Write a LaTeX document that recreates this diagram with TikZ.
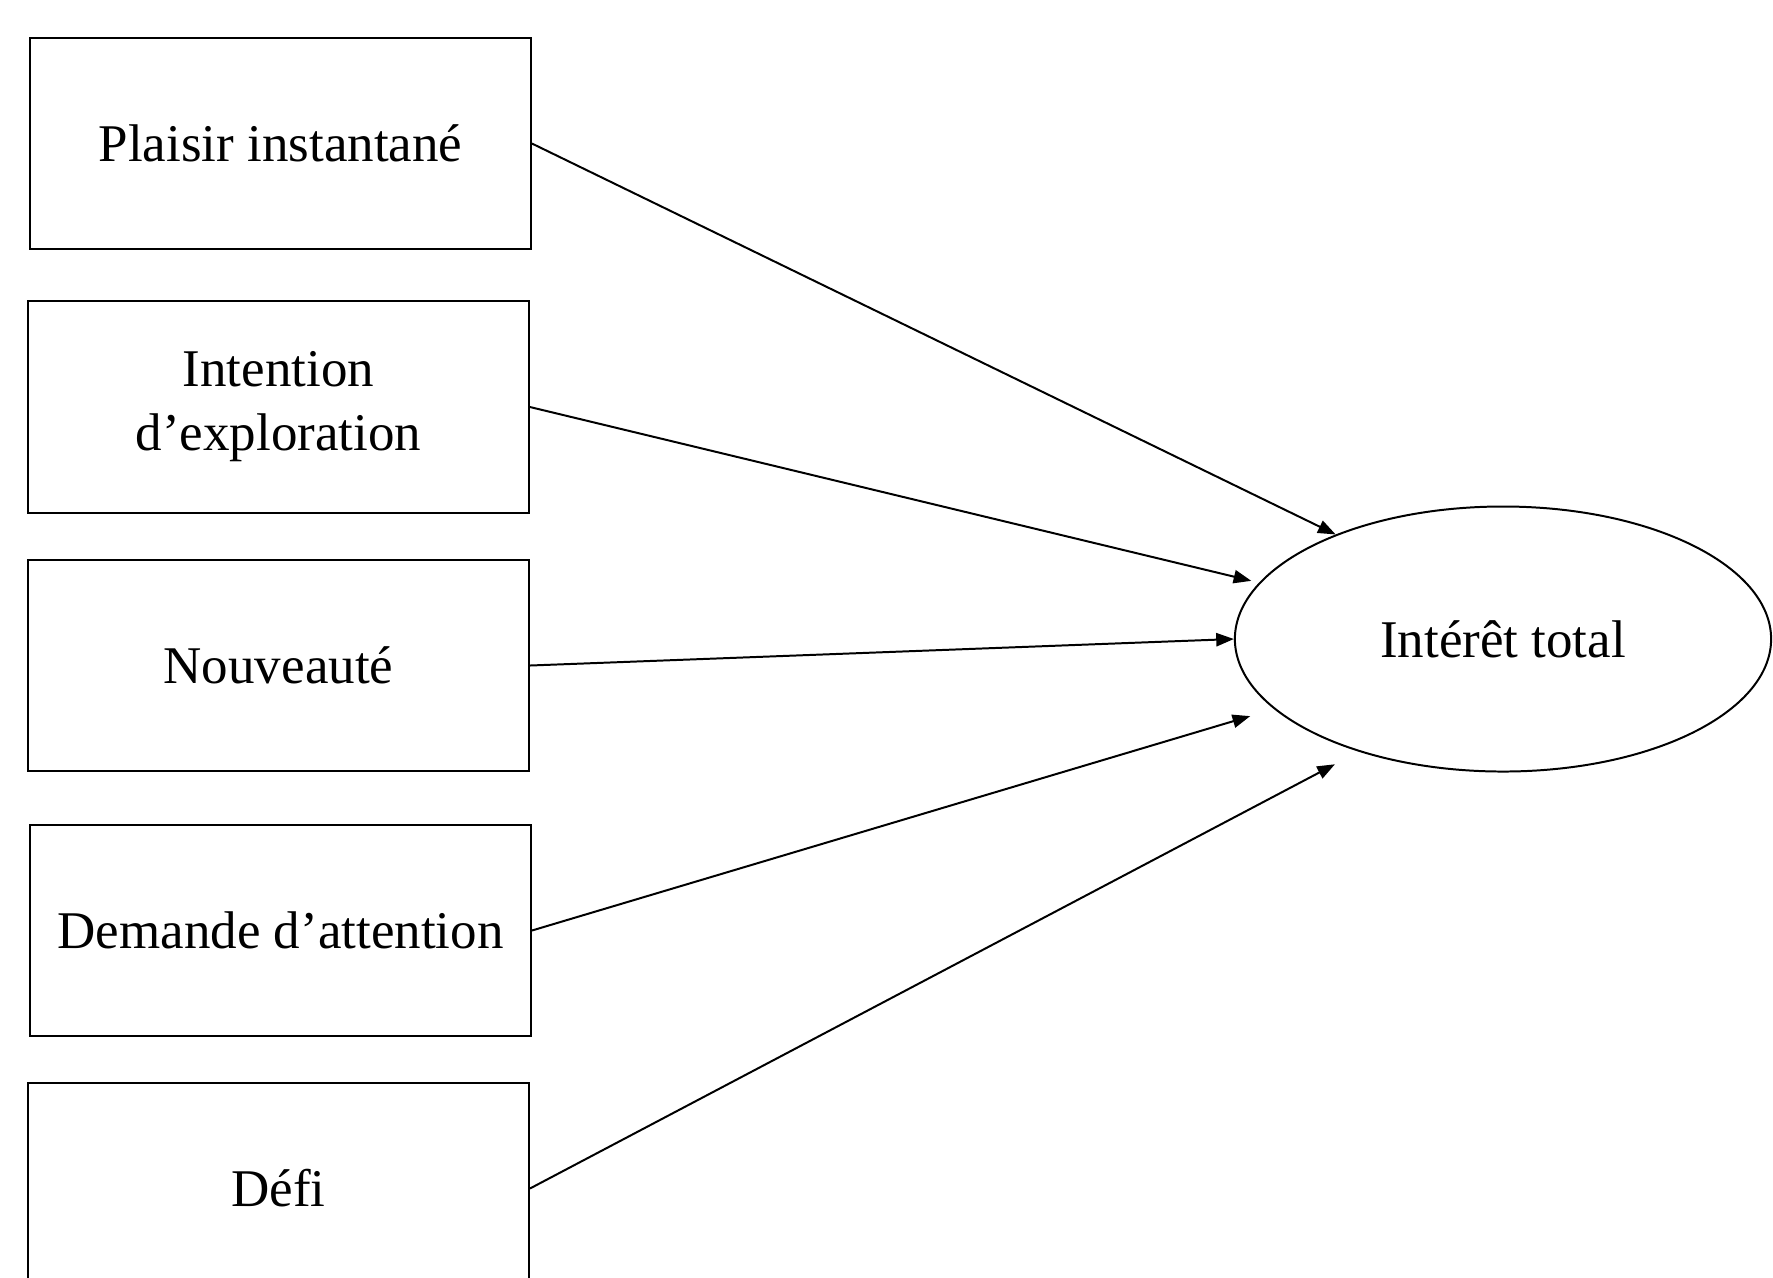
\documentclass[12pt,tikz,border=0pt]{standalone}
\usepackage{fontspec}
\setmainfont{Liberation Serif}
\usetikzlibrary{shapes.geometric,arrows.meta}

\begin{document}
\begin{tikzpicture}[x=0.2264pt,y=-0.2264pt,
  factor/.style={draw,line width=0.45pt,minimum width=113.4pt,minimum height=47.8pt,inner sep=0pt,align=center},
  total/.style={draw,ellipse,line width=0.45pt,minimum width=121.4pt,minimum height=60pt,inner sep=0pt},
  link/.style={line width=0.45pt,-{Triangle[length=4pt,width=3pt]}}]
\useasboundingbox (0,0) rectangle (1773,1277);
\node[factor] (plaisir) at (280.5,143.5) {Plaisir instantané};
\node[factor] (intention) at (278.5,407) {Intention\\d’exploration};
\node[factor] (nouv) at (278.5,665.5) {Nouveauté};
\node[factor] (demande) at (280.5,930.5) {Demande d’attention};
\node[factor] (defi) at (278.5,1188.5) {Défi};
\node[total] (tot) at (1503,639) {Intérêt total};
\draw[link] (plaisir.east) -- (tot.148);
\draw[link,shorten >=1.8pt] (intention.east) -- (tot.167);
\draw[link] (nouv.east) -- (tot.180);
\draw[link,shorten >=5.6pt] (demande.east) -- (tot.197);
\draw[link,shorten >=6.1pt] (defi.east) -- (tot.218);
\end{tikzpicture}
\end{document}
